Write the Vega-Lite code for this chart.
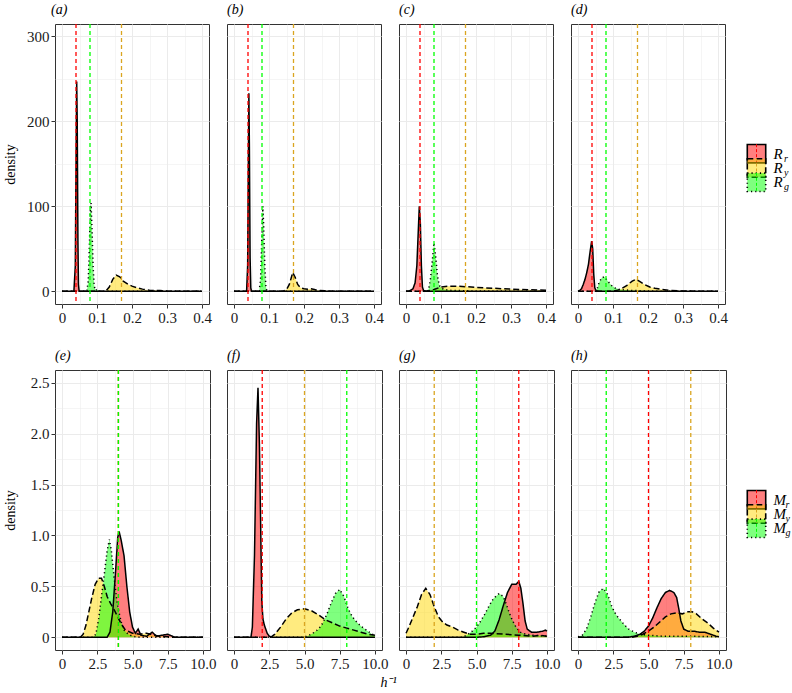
{
"$schema":"https://vega.github.io/schema/vega-lite/v6.json",
"padding":{"left":3,"top":2,"right":0,"bottom":0},
"config":{
 "font":"Liberation Serif",
 "view":{"stroke":"#333333","strokeWidth":1},
 "axis":{"domain":false,"grid":true,"gridColor":"#ebebeb","tickColor":"#333333","tickSize":4,"labelFont":"Liberation Serif","labelFontSize":15,"labelColor":"#1a1a1a","labelPadding":2,"labelOverlap":false,"titleFont":"Liberation Serif","titleFontSize":14,"titleFontWeight":"normal","titleColor":"#000000"},
 "title":{"font":"Liberation Serif","fontSize":14,"fontStyle":"italic","fontWeight":"normal","anchor":"start","frame":"group","offset":6,"color":"#000000"}
},
"datasets":{
"top":[
{"p":"a","s":"r","x":0,"d":0},{"p":"a","s":"r","x":0.034,"d":0},{"p":"a","s":"r","x":0.038,"d":30},{"p":"a","s":"r","x":0.0405,"d":170},{"p":"a","s":"r","x":0.042,"d":247},{"p":"a","s":"r","x":0.0435,"d":200},{"p":"a","s":"r","x":0.0455,"d":60},{"p":"a","s":"r","x":0.047,"d":8},{"p":"a","s":"r","x":0.049,"d":0},{"p":"a","s":"r","x":0.4,"d":0},
{"p":"a","s":"y","x":0,"d":0},{"p":"a","s":"y","x":0.125,"d":0},{"p":"a","s":"y","x":0.135,"d":5},{"p":"a","s":"y","x":0.145,"d":14},{"p":"a","s":"y","x":0.155,"d":19},{"p":"a","s":"y","x":0.165,"d":17},{"p":"a","s":"y","x":0.175,"d":12},{"p":"a","s":"y","x":0.19,"d":8},{"p":"a","s":"y","x":0.2,"d":6},{"p":"a","s":"y","x":0.215,"d":4},{"p":"a","s":"y","x":0.23,"d":2.5},{"p":"a","s":"y","x":0.25,"d":1.2},{"p":"a","s":"y","x":0.27,"d":0.8},{"p":"a","s":"y","x":0.28,"d":1},{"p":"a","s":"y","x":0.3,"d":0.3},{"p":"a","s":"y","x":0.32,"d":0},{"p":"a","s":"y","x":0.4,"d":0},
{"p":"a","s":"g","x":0,"d":0},{"p":"a","s":"g","x":0.071,"d":0},{"p":"a","s":"g","x":0.075,"d":12},{"p":"a","s":"g","x":0.078,"d":50},{"p":"a","s":"g","x":0.081,"d":95},{"p":"a","s":"g","x":0.083,"d":104},{"p":"a","s":"g","x":0.086,"d":70},{"p":"a","s":"g","x":0.089,"d":28},{"p":"a","s":"g","x":0.092,"d":7},{"p":"a","s":"g","x":0.095,"d":1},{"p":"a","s":"g","x":0.1,"d":2},{"p":"a","s":"g","x":0.105,"d":0},{"p":"a","s":"g","x":0.4,"d":0},
{"p":"b","s":"r","x":0,"d":0},{"p":"b","s":"r","x":0.036,"d":0},{"p":"b","s":"r","x":0.039,"d":30},{"p":"b","s":"r","x":0.041,"d":150},{"p":"b","s":"r","x":0.0425,"d":233},{"p":"b","s":"r","x":0.044,"d":170},{"p":"b","s":"r","x":0.046,"d":40},{"p":"b","s":"r","x":0.048,"d":4},{"p":"b","s":"r","x":0.05,"d":0},{"p":"b","s":"r","x":0.4,"d":0},
{"p":"b","s":"y","x":0,"d":0},{"p":"b","s":"y","x":0.14,"d":0},{"p":"b","s":"y","x":0.15,"d":2},{"p":"b","s":"y","x":0.158,"d":8},{"p":"b","s":"y","x":0.163,"d":15},{"p":"b","s":"y","x":0.168,"d":22},{"p":"b","s":"y","x":0.175,"d":16},{"p":"b","s":"y","x":0.182,"d":8},{"p":"b","s":"y","x":0.19,"d":4},{"p":"b","s":"y","x":0.2,"d":3},{"p":"b","s":"y","x":0.21,"d":2.5},{"p":"b","s":"y","x":0.22,"d":3},{"p":"b","s":"y","x":0.23,"d":2},{"p":"b","s":"y","x":0.24,"d":1},{"p":"b","s":"y","x":0.26,"d":0.5},{"p":"b","s":"y","x":0.28,"d":0},{"p":"b","s":"y","x":0.4,"d":0},
{"p":"b","s":"g","x":0,"d":0},{"p":"b","s":"g","x":0.072,"d":0},{"p":"b","s":"g","x":0.076,"d":15},{"p":"b","s":"g","x":0.079,"d":55},{"p":"b","s":"g","x":0.0825,"d":100},{"p":"b","s":"g","x":0.085,"d":75},{"p":"b","s":"g","x":0.088,"d":30},{"p":"b","s":"g","x":0.091,"d":6},{"p":"b","s":"g","x":0.094,"d":0},{"p":"b","s":"g","x":0.4,"d":0},
{"p":"c","s":"r","x":0,"d":0},{"p":"c","s":"r","x":0.01,"d":0.5},{"p":"c","s":"r","x":0.02,"d":3},{"p":"c","s":"r","x":0.026,"d":10},{"p":"c","s":"r","x":0.031,"d":30},{"p":"c","s":"r","x":0.035,"d":70},{"p":"c","s":"r","x":0.038,"d":100},{"p":"c","s":"r","x":0.041,"d":80},{"p":"c","s":"r","x":0.044,"d":30},{"p":"c","s":"r","x":0.047,"d":5},{"p":"c","s":"r","x":0.05,"d":1},{"p":"c","s":"r","x":0.06,"d":0},{"p":"c","s":"r","x":0.4,"d":0},
{"p":"c","s":"y","x":0,"d":0},{"p":"c","s":"y","x":0.06,"d":0},{"p":"c","s":"y","x":0.08,"d":2},{"p":"c","s":"y","x":0.1,"d":5},{"p":"c","s":"y","x":0.12,"d":6},{"p":"c","s":"y","x":0.15,"d":6},{"p":"c","s":"y","x":0.2,"d":4.5},{"p":"c","s":"y","x":0.25,"d":3.5},{"p":"c","s":"y","x":0.3,"d":2.5},{"p":"c","s":"y","x":0.35,"d":1.8},{"p":"c","s":"y","x":0.4,"d":1.2},
{"p":"c","s":"g","x":0,"d":0},{"p":"c","s":"g","x":0.06,"d":0},{"p":"c","s":"g","x":0.065,"d":3},{"p":"c","s":"g","x":0.07,"d":15},{"p":"c","s":"g","x":0.075,"d":35},{"p":"c","s":"g","x":0.08,"d":57},{"p":"c","s":"g","x":0.085,"d":40},{"p":"c","s":"g","x":0.09,"d":18},{"p":"c","s":"g","x":0.095,"d":7},{"p":"c","s":"g","x":0.1,"d":4},{"p":"c","s":"g","x":0.11,"d":2},{"p":"c","s":"g","x":0.13,"d":1},{"p":"c","s":"g","x":0.2,"d":0.3},{"p":"c","s":"g","x":0.4,"d":0},
{"p":"d","s":"r","x":0,"d":0},{"p":"d","s":"r","x":0.005,"d":1},{"p":"d","s":"r","x":0.01,"d":3},{"p":"d","s":"r","x":0.015,"d":8},{"p":"d","s":"r","x":0.02,"d":14},{"p":"d","s":"r","x":0.025,"d":22},{"p":"d","s":"r","x":0.03,"d":32},{"p":"d","s":"r","x":0.035,"d":48},{"p":"d","s":"r","x":0.039,"d":59},{"p":"d","s":"r","x":0.042,"d":50},{"p":"d","s":"r","x":0.045,"d":20},{"p":"d","s":"r","x":0.048,"d":4},{"p":"d","s":"r","x":0.052,"d":0.5},{"p":"d","s":"r","x":0.06,"d":0},{"p":"d","s":"r","x":0.4,"d":0},
{"p":"d","s":"y","x":0,"d":0},{"p":"d","s":"y","x":0.1,"d":0},{"p":"d","s":"y","x":0.12,"d":2},{"p":"d","s":"y","x":0.14,"d":7},{"p":"d","s":"y","x":0.155,"d":12},{"p":"d","s":"y","x":0.165,"d":14},{"p":"d","s":"y","x":0.175,"d":12},{"p":"d","s":"y","x":0.19,"d":8},{"p":"d","s":"y","x":0.205,"d":5},{"p":"d","s":"y","x":0.22,"d":3.5},{"p":"d","s":"y","x":0.24,"d":2},{"p":"d","s":"y","x":0.26,"d":1},{"p":"d","s":"y","x":0.3,"d":0.3},{"p":"d","s":"y","x":0.35,"d":0},{"p":"d","s":"y","x":0.4,"d":0},
{"p":"d","s":"g","x":0,"d":0},{"p":"d","s":"g","x":0.05,"d":0},{"p":"d","s":"g","x":0.055,"d":3},{"p":"d","s":"g","x":0.06,"d":10},{"p":"d","s":"g","x":0.068,"d":16},{"p":"d","s":"g","x":0.075,"d":17},{"p":"d","s":"g","x":0.085,"d":12},{"p":"d","s":"g","x":0.095,"d":7},{"p":"d","s":"g","x":0.105,"d":4},{"p":"d","s":"g","x":0.12,"d":2},{"p":"d","s":"g","x":0.15,"d":1},{"p":"d","s":"g","x":0.2,"d":0.3},{"p":"d","s":"g","x":0.25,"d":0},{"p":"d","s":"g","x":0.4,"d":0}
],
"bot":[
{"p":"e","s":"r","x":0,"d":0},{"p":"e","s":"r","x":3.2,"d":0},{"p":"e","s":"r","x":3.4,"d":0.05},{"p":"e","s":"r","x":3.6,"d":0.25},{"p":"e","s":"r","x":3.8,"d":0.65},{"p":"e","s":"r","x":3.95,"d":0.98},{"p":"e","s":"r","x":4.05,"d":1.04},{"p":"e","s":"r","x":4.2,"d":0.95},{"p":"e","s":"r","x":4.4,"d":0.8},{"p":"e","s":"r","x":4.6,"d":0.5},{"p":"e","s":"r","x":4.8,"d":0.25},{"p":"e","s":"r","x":5.0,"d":0.1},{"p":"e","s":"r","x":5.2,"d":0.04},{"p":"e","s":"r","x":5.4,"d":0.08},{"p":"e","s":"r","x":5.6,"d":0.02},{"p":"e","s":"r","x":6.0,"d":0.01},{"p":"e","s":"r","x":6.4,"d":0.05},{"p":"e","s":"r","x":6.7,"d":0.01},{"p":"e","s":"r","x":7.5,"d":0.03},{"p":"e","s":"r","x":8,"d":0},{"p":"e","s":"r","x":10,"d":0},
{"p":"e","s":"y","x":0,"d":0},{"p":"e","s":"y","x":1.3,"d":0},{"p":"e","s":"y","x":1.5,"d":0.03},{"p":"e","s":"y","x":1.7,"d":0.12},{"p":"e","s":"y","x":1.9,"d":0.25},{"p":"e","s":"y","x":2.1,"d":0.38},{"p":"e","s":"y","x":2.35,"d":0.52},{"p":"e","s":"y","x":2.6,"d":0.58},{"p":"e","s":"y","x":2.8,"d":0.58},{"p":"e","s":"y","x":3.0,"d":0.5},{"p":"e","s":"y","x":3.2,"d":0.4},{"p":"e","s":"y","x":3.45,"d":0.33},{"p":"e","s":"y","x":3.7,"d":0.27},{"p":"e","s":"y","x":3.95,"d":0.2},{"p":"e","s":"y","x":4.2,"d":0.13},{"p":"e","s":"y","x":4.5,"d":0.07},{"p":"e","s":"y","x":5.0,"d":0.04},{"p":"e","s":"y","x":5.5,"d":0.03},{"p":"e","s":"y","x":6.0,"d":0.04},{"p":"e","s":"y","x":6.5,"d":0.02},{"p":"e","s":"y","x":7.0,"d":0.01},{"p":"e","s":"y","x":8,"d":0},{"p":"e","s":"y","x":10,"d":0},
{"p":"e","s":"g","x":0,"d":0},{"p":"e","s":"g","x":2.2,"d":0},{"p":"e","s":"g","x":2.4,"d":0.03},{"p":"e","s":"g","x":2.6,"d":0.18},{"p":"e","s":"g","x":2.8,"d":0.4},{"p":"e","s":"g","x":3.0,"d":0.62},{"p":"e","s":"g","x":3.2,"d":0.85},{"p":"e","s":"g","x":3.36,"d":0.96},{"p":"e","s":"g","x":3.5,"d":0.85},{"p":"e","s":"g","x":3.7,"d":0.58},{"p":"e","s":"g","x":3.85,"d":0.4},{"p":"e","s":"g","x":4.0,"d":0.27},{"p":"e","s":"g","x":4.2,"d":0.15},{"p":"e","s":"g","x":4.4,"d":0.07},{"p":"e","s":"g","x":4.7,"d":0.03},{"p":"e","s":"g","x":5.0,"d":0.01},{"p":"e","s":"g","x":5.5,"d":0},{"p":"e","s":"g","x":10,"d":0},
{"p":"f","s":"r","x":0,"d":0},{"p":"f","s":"r","x":1.2,"d":0},{"p":"f","s":"r","x":1.3,"d":0.1},{"p":"f","s":"r","x":1.45,"d":0.8},{"p":"f","s":"r","x":1.6,"d":2.1},{"p":"f","s":"r","x":1.7,"d":2.45},{"p":"f","s":"r","x":1.8,"d":1.9},{"p":"f","s":"r","x":1.9,"d":1.0},{"p":"f","s":"r","x":1.97,"d":0.35},{"p":"f","s":"r","x":2.05,"d":0.18},{"p":"f","s":"r","x":2.15,"d":0.12},{"p":"f","s":"r","x":2.25,"d":0.08},{"p":"f","s":"r","x":2.35,"d":0.04},{"p":"f","s":"r","x":2.5,"d":0.01},{"p":"f","s":"r","x":2.7,"d":0},{"p":"f","s":"r","x":10,"d":0},
{"p":"f","s":"y","x":0,"d":0},{"p":"f","s":"y","x":2.6,"d":0},{"p":"f","s":"y","x":2.9,"d":0.03},{"p":"f","s":"y","x":3.3,"d":0.1},{"p":"f","s":"y","x":3.7,"d":0.18},{"p":"f","s":"y","x":4.1,"d":0.24},{"p":"f","s":"y","x":4.5,"d":0.27},{"p":"f","s":"y","x":5.0,"d":0.28},{"p":"f","s":"y","x":5.5,"d":0.26},{"p":"f","s":"y","x":6.0,"d":0.22},{"p":"f","s":"y","x":6.5,"d":0.17},{"p":"f","s":"y","x":7.0,"d":0.14},{"p":"f","s":"y","x":7.5,"d":0.11},{"p":"f","s":"y","x":8.0,"d":0.09},{"p":"f","s":"y","x":8.5,"d":0.07},{"p":"f","s":"y","x":9.0,"d":0.05},{"p":"f","s":"y","x":9.5,"d":0.03},{"p":"f","s":"y","x":10,"d":0.02},
{"p":"f","s":"g","x":0,"d":0},{"p":"f","s":"g","x":4.8,"d":0},{"p":"f","s":"g","x":5.2,"d":0.01},{"p":"f","s":"g","x":5.6,"d":0.04},{"p":"f","s":"g","x":6.0,"d":0.08},{"p":"f","s":"g","x":6.3,"d":0.14},{"p":"f","s":"g","x":6.6,"d":0.23},{"p":"f","s":"g","x":6.9,"d":0.34},{"p":"f","s":"g","x":7.2,"d":0.43},{"p":"f","s":"g","x":7.5,"d":0.47},{"p":"f","s":"g","x":7.8,"d":0.4},{"p":"f","s":"g","x":8.1,"d":0.28},{"p":"f","s":"g","x":8.4,"d":0.2},{"p":"f","s":"g","x":8.7,"d":0.15},{"p":"f","s":"g","x":9.0,"d":0.11},{"p":"f","s":"g","x":9.4,"d":0.07},{"p":"f","s":"g","x":9.8,"d":0.03},{"p":"f","s":"g","x":10,"d":0.02},
{"p":"g","s":"r","x":0,"d":0},{"p":"g","s":"r","x":5.0,"d":0},{"p":"g","s":"r","x":5.5,"d":0.005},{"p":"g","s":"r","x":6.0,"d":0.02},{"p":"g","s":"r","x":6.3,"d":0.06},{"p":"g","s":"r","x":6.6,"d":0.17},{"p":"g","s":"r","x":6.9,"d":0.31},{"p":"g","s":"r","x":7.2,"d":0.44},{"p":"g","s":"r","x":7.5,"d":0.52},{"p":"g","s":"r","x":7.8,"d":0.52},{"p":"g","s":"r","x":8.0,"d":0.55},{"p":"g","s":"r","x":8.15,"d":0.48},{"p":"g","s":"r","x":8.3,"d":0.33},{"p":"g","s":"r","x":8.45,"d":0.16},{"p":"g","s":"r","x":8.6,"d":0.08},{"p":"g","s":"r","x":8.9,"d":0.05},{"p":"g","s":"r","x":9.3,"d":0.05},{"p":"g","s":"r","x":9.7,"d":0.06},{"p":"g","s":"r","x":9.9,"d":0.07},{"p":"g","s":"r","x":10,"d":0.06},
{"p":"g","s":"y","x":0,"d":0.04},{"p":"g","s":"y","x":0.2,"d":0.1},{"p":"g","s":"y","x":0.5,"d":0.2},{"p":"g","s":"y","x":0.8,"d":0.3},{"p":"g","s":"y","x":1.1,"d":0.42},{"p":"g","s":"y","x":1.4,"d":0.48},{"p":"g","s":"y","x":1.7,"d":0.42},{"p":"g","s":"y","x":2.0,"d":0.3},{"p":"g","s":"y","x":2.3,"d":0.2},{"p":"g","s":"y","x":2.6,"d":0.15},{"p":"g","s":"y","x":2.9,"d":0.12},{"p":"g","s":"y","x":3.3,"d":0.1},{"p":"g","s":"y","x":3.7,"d":0.07},{"p":"g","s":"y","x":4.1,"d":0.05},{"p":"g","s":"y","x":4.5,"d":0.03},{"p":"g","s":"y","x":5,"d":0.03},{"p":"g","s":"y","x":5.5,"d":0.04},{"p":"g","s":"y","x":6,"d":0.04},{"p":"g","s":"y","x":7,"d":0.03},{"p":"g","s":"y","x":8,"d":0.02},{"p":"g","s":"y","x":9,"d":0.01},{"p":"g","s":"y","x":9.5,"d":0.02},{"p":"g","s":"y","x":10,"d":0.01},
{"p":"g","s":"g","x":0,"d":0},{"p":"g","s":"g","x":4.0,"d":0},{"p":"g","s":"g","x":4.3,"d":0.02},{"p":"g","s":"g","x":4.7,"d":0.06},{"p":"g","s":"g","x":5.0,"d":0.1},{"p":"g","s":"g","x":5.3,"d":0.16},{"p":"g","s":"g","x":5.6,"d":0.23},{"p":"g","s":"g","x":5.9,"d":0.31},{"p":"g","s":"g","x":6.2,"d":0.38},{"p":"g","s":"g","x":6.6,"d":0.43},{"p":"g","s":"g","x":6.9,"d":0.4},{"p":"g","s":"g","x":7.1,"d":0.33},{"p":"g","s":"g","x":7.3,"d":0.25},{"p":"g","s":"g","x":7.5,"d":0.18},{"p":"g","s":"g","x":7.8,"d":0.1},{"p":"g","s":"g","x":8.1,"d":0.05},{"p":"g","s":"g","x":8.5,"d":0.03},{"p":"g","s":"g","x":9,"d":0.02},{"p":"g","s":"g","x":10,"d":0.01},
{"p":"h","s":"r","x":0,"d":0},{"p":"h","s":"r","x":3.5,"d":0},{"p":"h","s":"r","x":4.0,"d":0.01},{"p":"h","s":"r","x":4.4,"d":0.03},{"p":"h","s":"r","x":4.7,"d":0.06},{"p":"h","s":"r","x":5.0,"d":0.11},{"p":"h","s":"r","x":5.3,"d":0.19},{"p":"h","s":"r","x":5.6,"d":0.29},{"p":"h","s":"r","x":5.9,"d":0.38},{"p":"h","s":"r","x":6.2,"d":0.44},{"p":"h","s":"r","x":6.5,"d":0.46},{"p":"h","s":"r","x":6.8,"d":0.44},{"p":"h","s":"r","x":7.0,"d":0.39},{"p":"h","s":"r","x":7.15,"d":0.28},{"p":"h","s":"r","x":7.3,"d":0.16},{"p":"h","s":"r","x":7.5,"d":0.08},{"p":"h","s":"r","x":7.8,"d":0.06},{"p":"h","s":"r","x":8.2,"d":0.06},{"p":"h","s":"r","x":8.6,"d":0.05},{"p":"h","s":"r","x":9.0,"d":0.05},{"p":"h","s":"r","x":9.4,"d":0.03},{"p":"h","s":"r","x":9.8,"d":0.01},{"p":"h","s":"r","x":10,"d":0.005},
{"p":"h","s":"y","x":0,"d":0},{"p":"h","s":"y","x":3.8,"d":0},{"p":"h","s":"y","x":4.2,"d":0.01},{"p":"h","s":"y","x":4.6,"d":0.03},{"p":"h","s":"y","x":5.0,"d":0.06},{"p":"h","s":"y","x":5.4,"d":0.1},{"p":"h","s":"y","x":5.8,"d":0.15},{"p":"h","s":"y","x":6.2,"d":0.2},{"p":"h","s":"y","x":6.6,"d":0.23},{"p":"h","s":"y","x":7.0,"d":0.24},{"p":"h","s":"y","x":7.4,"d":0.23},{"p":"h","s":"y","x":7.8,"d":0.25},{"p":"h","s":"y","x":8.1,"d":0.25},{"p":"h","s":"y","x":8.4,"d":0.23},{"p":"h","s":"y","x":8.8,"d":0.18},{"p":"h","s":"y","x":9.2,"d":0.14},{"p":"h","s":"y","x":9.6,"d":0.09},{"p":"h","s":"y","x":10,"d":0.05},
{"p":"h","s":"g","x":0,"d":0.005},{"p":"h","s":"g","x":0.3,"d":0.02},{"p":"h","s":"g","x":0.6,"d":0.08},{"p":"h","s":"g","x":0.9,"d":0.2},{"p":"h","s":"g","x":1.2,"d":0.34},{"p":"h","s":"g","x":1.5,"d":0.45},{"p":"h","s":"g","x":1.8,"d":0.48},{"p":"h","s":"g","x":2.1,"d":0.42},{"p":"h","s":"g","x":2.4,"d":0.3},{"p":"h","s":"g","x":2.7,"d":0.22},{"p":"h","s":"g","x":3.0,"d":0.17},{"p":"h","s":"g","x":3.3,"d":0.12},{"p":"h","s":"g","x":3.6,"d":0.08},{"p":"h","s":"g","x":4.0,"d":0.05},{"p":"h","s":"g","x":4.4,"d":0.03},{"p":"h","s":"g","x":5,"d":0.02},{"p":"h","s":"g","x":6,"d":0.01},{"p":"h","s":"g","x":8,"d":0.01},{"p":"h","s":"g","x":10,"d":0.005}
],
"vtop":[
{"p":"a","s":"r","x":0.04},{"p":"a","s":"y","x":0.17},{"p":"a","s":"g","x":0.08},
{"p":"b","s":"r","x":0.04},{"p":"b","s":"y","x":0.17},{"p":"b","s":"g","x":0.08},
{"p":"c","s":"r","x":0.04},{"p":"c","s":"y","x":0.17},{"p":"c","s":"g","x":0.08},
{"p":"d","s":"r","x":0.04},{"p":"d","s":"y","x":0.17},{"p":"d","s":"g","x":0.08}
],
"vbot":[
{"p":"e","s":"r","x":4},{"p":"e","s":"y","x":4},{"p":"e","s":"g","x":4},
{"p":"f","s":"r","x":2},{"p":"f","s":"y","x":5},{"p":"f","s":"g","x":8},
{"p":"g","s":"r","x":8},{"p":"g","s":"y","x":2},{"p":"g","s":"g","x":5},
{"p":"h","s":"r","x":5},{"p":"h","s":"y","x":8},{"p":"h","s":"g","x":2}
],
"legR":[{"s":"r","m":"R"},{"s":"y","m":"R"},{"s":"g","m":"R"}],
"legM":[{"s":"r","m":"M"},{"s":"y","m":"M"},{"s":"g","m":"M"}]
},
"spacing":22,
"vconcat":[
{"spacing":18,"bounds":"flush","hconcat":[
 {"width":154,"height":280,"title":{"text":"(a)","dx":-4},
  "layer":[
   {"data":{"name":"top"},"transform":[{"filter":"datum.p=='a'"}],
    "encoding":{
     "x":{"field":"x","type":"quantitative","scale":{"domain":[-0.02,0.42],"nice":false,"zero":false},"axis":{"title":null,"values":[0,0.05,0.1,0.15,0.2,0.25,0.3,0.35,0.4],"labelExpr":"round(datum.value*100)%10!=0?'':(datum.value==0?'0':format(datum.value,'.1f'))","tickOpacity":{"condition":{"test":"round(datum.value*100)%10!=0","value":0},"value":1},"gridWidth":{"condition":{"test":"round(datum.value*100)%10!=0","value":0.5},"value":1}}},
     "y":{"field":"d","type":"quantitative","stack":null,"scale":{"domain":[-15,314.6],"nice":false,"zero":false},"axis":{"title":"density","titlePadding":9,"values":[0,50,100,150,200,250,300],"labelExpr":"datum.value%100!=0?'':datum.label","tickOpacity":{"condition":{"test":"datum.value%100!=0","value":0},"value":1},"gridWidth":{"condition":{"test":"datum.value%100!=0","value":0.5},"value":1}}}
    },
    "layer":[
     {"mark":{"type":"area","fillOpacity":0.5,"clip":true},"encoding":{"fill":{"field":"s","type":"nominal","scale":{"domain":["r","y","g"],"range":["#ff0000","#ffd700","#00ff00"]},"legend":null}}},
     {"mark":{"type":"line","stroke":"black","strokeWidth":1.5,"clip":true},"encoding":{"strokeDash":{"field":"s","type":"nominal","scale":{"domain":["r","y","g"],"range":[[1,0],[6,3],[1.2,3]]},"legend":null}}}
    ]},
   {"data":{"name":"vtop"},"transform":[{"filter":"datum.p=='a'"}],"mark":{"type":"rule","strokeWidth":1.3,"strokeDash":[4,3]},
    "encoding":{"x":{"field":"x","type":"quantitative","scale":{"domain":[-0.02,0.42],"nice":false,"zero":false},"axis":{"title":null,"values":[0,0.05,0.1,0.15,0.2,0.25,0.3,0.35,0.4],"labelExpr":"round(datum.value*100)%10!=0?'':(datum.value==0?'0':format(datum.value,'.1f'))","tickOpacity":{"condition":{"test":"round(datum.value*100)%10!=0","value":0},"value":1},"gridWidth":{"condition":{"test":"round(datum.value*100)%10!=0","value":0.5},"value":1}}},
     "stroke":{"field":"s","type":"nominal","scale":{"domain":["r","y","g"],"range":["#ff0000","#daa520","#00ff00"]},"legend":null}}}
  ]},
 {"width":154,"height":280,"title":{"text":"(b)"},
  "layer":[
   {"data":{"name":"top"},"transform":[{"filter":"datum.p=='b'"}],
    "encoding":{
     "x":{"field":"x","type":"quantitative","scale":{"domain":[-0.02,0.42],"nice":false,"zero":false},"axis":{"title":null,"values":[0,0.05,0.1,0.15,0.2,0.25,0.3,0.35,0.4],"labelExpr":"round(datum.value*100)%10!=0?'':(datum.value==0?'0':format(datum.value,'.1f'))","tickOpacity":{"condition":{"test":"round(datum.value*100)%10!=0","value":0},"value":1},"gridWidth":{"condition":{"test":"round(datum.value*100)%10!=0","value":0.5},"value":1}}},
     "y":{"field":"d","type":"quantitative","stack":null,"scale":{"domain":[-15,314.6],"nice":false,"zero":false},"axis":{"title":null,"labels":false,"ticks":false,"values":[0,50,100,150,200,250,300],"gridWidth":{"condition":{"test":"datum.value%100!=0","value":0.5},"value":1}}}
    },
    "layer":[
     {"mark":{"type":"area","fillOpacity":0.5,"clip":true},"encoding":{"fill":{"field":"s","type":"nominal","scale":{"domain":["r","y","g"],"range":["#ff0000","#ffd700","#00ff00"]},"legend":null}}},
     {"mark":{"type":"line","stroke":"black","strokeWidth":1.5,"clip":true},"encoding":{"strokeDash":{"field":"s","type":"nominal","scale":{"domain":["r","y","g"],"range":[[1,0],[6,3],[1.2,3]]},"legend":null}}}
    ]},
   {"data":{"name":"vtop"},"transform":[{"filter":"datum.p=='b'"}],"mark":{"type":"rule","strokeWidth":1.3,"strokeDash":[4,3]},
    "encoding":{"x":{"field":"x","type":"quantitative","scale":{"domain":[-0.02,0.42],"nice":false,"zero":false},"axis":{"title":null,"values":[0,0.05,0.1,0.15,0.2,0.25,0.3,0.35,0.4],"labelExpr":"round(datum.value*100)%10!=0?'':(datum.value==0?'0':format(datum.value,'.1f'))","tickOpacity":{"condition":{"test":"round(datum.value*100)%10!=0","value":0},"value":1},"gridWidth":{"condition":{"test":"round(datum.value*100)%10!=0","value":0.5},"value":1}}},
     "stroke":{"field":"s","type":"nominal","scale":{"domain":["r","y","g"],"range":["#ff0000","#daa520","#00ff00"]},"legend":null}}}
  ]},
 {"width":154,"height":280,"title":{"text":"(c)"},
  "layer":[
   {"data":{"name":"top"},"transform":[{"filter":"datum.p=='c'"}],
    "encoding":{
     "x":{"field":"x","type":"quantitative","scale":{"domain":[-0.02,0.42],"nice":false,"zero":false},"axis":{"title":null,"values":[0,0.05,0.1,0.15,0.2,0.25,0.3,0.35,0.4],"labelExpr":"round(datum.value*100)%10!=0?'':(datum.value==0?'0':format(datum.value,'.1f'))","tickOpacity":{"condition":{"test":"round(datum.value*100)%10!=0","value":0},"value":1},"gridWidth":{"condition":{"test":"round(datum.value*100)%10!=0","value":0.5},"value":1}}},
     "y":{"field":"d","type":"quantitative","stack":null,"scale":{"domain":[-15,314.6],"nice":false,"zero":false},"axis":{"title":null,"labels":false,"ticks":false,"values":[0,50,100,150,200,250,300],"gridWidth":{"condition":{"test":"datum.value%100!=0","value":0.5},"value":1}}}
    },
    "layer":[
     {"mark":{"type":"area","fillOpacity":0.5,"clip":true},"encoding":{"fill":{"field":"s","type":"nominal","scale":{"domain":["r","y","g"],"range":["#ff0000","#ffd700","#00ff00"]},"legend":null}}},
     {"mark":{"type":"line","stroke":"black","strokeWidth":1.5,"clip":true},"encoding":{"strokeDash":{"field":"s","type":"nominal","scale":{"domain":["r","y","g"],"range":[[1,0],[6,3],[1.2,3]]},"legend":null}}}
    ]},
   {"data":{"name":"vtop"},"transform":[{"filter":"datum.p=='c'"}],"mark":{"type":"rule","strokeWidth":1.3,"strokeDash":[4,3]},
    "encoding":{"x":{"field":"x","type":"quantitative","scale":{"domain":[-0.02,0.42],"nice":false,"zero":false},"axis":{"title":null,"values":[0,0.05,0.1,0.15,0.2,0.25,0.3,0.35,0.4],"labelExpr":"round(datum.value*100)%10!=0?'':(datum.value==0?'0':format(datum.value,'.1f'))","tickOpacity":{"condition":{"test":"round(datum.value*100)%10!=0","value":0},"value":1},"gridWidth":{"condition":{"test":"round(datum.value*100)%10!=0","value":0.5},"value":1}}},
     "stroke":{"field":"s","type":"nominal","scale":{"domain":["r","y","g"],"range":["#ff0000","#daa520","#00ff00"]},"legend":null}}}
  ]},
 {"width":154,"height":280,"title":{"text":"(d)"},
  "layer":[
   {"data":{"name":"top"},"transform":[{"filter":"datum.p=='d'"}],
    "encoding":{
     "x":{"field":"x","type":"quantitative","scale":{"domain":[-0.02,0.42],"nice":false,"zero":false},"axis":{"title":null,"values":[0,0.05,0.1,0.15,0.2,0.25,0.3,0.35,0.4],"labelExpr":"round(datum.value*100)%10!=0?'':(datum.value==0?'0':format(datum.value,'.1f'))","tickOpacity":{"condition":{"test":"round(datum.value*100)%10!=0","value":0},"value":1},"gridWidth":{"condition":{"test":"round(datum.value*100)%10!=0","value":0.5},"value":1}}},
     "y":{"field":"d","type":"quantitative","stack":null,"scale":{"domain":[-15,314.6],"nice":false,"zero":false},"axis":{"title":null,"labels":false,"ticks":false,"values":[0,50,100,150,200,250,300],"gridWidth":{"condition":{"test":"datum.value%100!=0","value":0.5},"value":1}}}
    },
    "layer":[
     {"mark":{"type":"area","fillOpacity":0.5,"clip":true},"encoding":{"fill":{"field":"s","type":"nominal","scale":{"domain":["r","y","g"],"range":["#ff0000","#ffd700","#00ff00"]},"legend":null}}},
     {"mark":{"type":"line","stroke":"black","strokeWidth":1.5,"clip":true},"encoding":{"strokeDash":{"field":"s","type":"nominal","scale":{"domain":["r","y","g"],"range":[[1,0],[6,3],[1.2,3]]},"legend":null}}}
    ]},
   {"data":{"name":"vtop"},"transform":[{"filter":"datum.p=='d'"}],"mark":{"type":"rule","strokeWidth":1.3,"strokeDash":[4,3]},
    "encoding":{"x":{"field":"x","type":"quantitative","scale":{"domain":[-0.02,0.42],"nice":false,"zero":false},"axis":{"title":null,"values":[0,0.05,0.1,0.15,0.2,0.25,0.3,0.35,0.4],"labelExpr":"round(datum.value*100)%10!=0?'':(datum.value==0?'0':format(datum.value,'.1f'))","tickOpacity":{"condition":{"test":"round(datum.value*100)%10!=0","value":0},"value":1},"gridWidth":{"condition":{"test":"round(datum.value*100)%10!=0","value":0.5},"value":1}}},
     "stroke":{"field":"s","type":"nominal","scale":{"domain":["r","y","g"],"range":["#ff0000","#daa520","#00ff00"]},"legend":null}}}
  ]},
 {"width":27,"height":280,"view":{"stroke":null},"data":{"name":"legR"},
  "encoding":{"y":{"field":"s","type":"nominal","scale":{"type":"point","domain":["r","y","g"],"range":[122.5,165.5]},"axis":null}},
  "layer":[
   {"mark":{"type":"point","shape":"square","filled":true,"size":340,"opacity":1,"fillOpacity":0.5,"stroke":"black","strokeWidth":1.6,"strokeOpacity":1},
    "encoding":{"fill":{"field":"s","type":"nominal","scale":{"domain":["r","y","g"],"range":["#ff0000","#ffd700","#00ff00"]},"legend":null},
     "strokeDash":{"field":"s","type":"nominal","scale":{"domain":["r","y","g"],"range":[[1,0],[6,3],[1.2,3]]},"legend":null}}},
   {"mark":{"type":"point","shape":"M0,-1L0,1","filled":false,"size":361,"opacity":1,"strokeWidth":1,"strokeDash":[3,2]},
    "encoding":{"stroke":{"field":"s","type":"nominal","scale":{"domain":["r","y","g"],"range":["#ff0000","#daa520","#00ff00"]},"legend":null}}},
   {"mark":{"type":"text","align":"left","baseline":"middle","dx":17,"fontSize":15,"fontStyle":"italic","font":"Liberation Serif"},"encoding":{"text":{"field":"m"}}},
   {"mark":{"type":"text","align":"left","baseline":"middle","dx":27.5,"dy":5,"fontSize":10,"fontStyle":"italic","font":"Liberation Serif"},"encoding":{"text":{"field":"s"}}}
  ]}
]},
{"spacing":17,"bounds":"flush","hconcat":[
 {"width":155,"height":280,"title":{"text":"(e)"},
  "layer":[
   {"data":{"name":"bot"},"transform":[{"filter":"datum.p=='e'"}],
    "encoding":{
     "x":{"field":"x","type":"quantitative","scale":{"domain":[-0.5,10.5],"nice":false,"zero":false},"axis":{"title":null,"values":[0,1.25,2.5,3.75,5,6.25,7.5,8.75,10],"labelExpr":"round(datum.value*100)%250!=0?'':(datum.value==0?'0':format(datum.value,'.1f'))","tickOpacity":{"condition":{"test":"round(datum.value*100)%250!=0","value":0},"value":1},"gridWidth":{"condition":{"test":"round(datum.value*100)%250!=0","value":0.5},"value":1}}},
     "y":{"field":"d","type":"quantitative","stack":null,"scale":{"domain":[-0.125,2.625],"nice":false,"zero":false},"axis":{"title":"density","titlePadding":12.75,"values":[0,0.25,0.5,0.75,1,1.25,1.5,1.75,2,2.25,2.5],"labelExpr":"round(datum.value*100)%50!=0?'':(datum.value==0?'0':format(datum.value,'.1f'))","tickOpacity":{"condition":{"test":"round(datum.value*100)%50!=0","value":0},"value":1},"gridWidth":{"condition":{"test":"round(datum.value*100)%50!=0","value":0.5},"value":1}}}
    },
    "layer":[
     {"mark":{"type":"area","fillOpacity":0.5,"clip":true},"encoding":{"fill":{"field":"s","type":"nominal","scale":{"domain":["r","y","g"],"range":["#ff0000","#ffd700","#00ff00"]},"legend":null}}},
     {"mark":{"type":"line","stroke":"black","strokeWidth":1.5,"clip":true},"encoding":{"strokeDash":{"field":"s","type":"nominal","scale":{"domain":["r","y","g"],"range":[[1,0],[6,3],[1.2,3]]},"legend":null}}}
    ]},
   {"data":{"name":"vbot"},"transform":[{"filter":"datum.p=='e'"}],"mark":{"type":"rule","strokeWidth":1.3,"strokeDash":[4,3]},
    "encoding":{"x":{"field":"x","type":"quantitative","scale":{"domain":[-0.5,10.5],"nice":false,"zero":false},"axis":{"title":null,"values":[0,1.25,2.5,3.75,5,6.25,7.5,8.75,10],"labelExpr":"round(datum.value*100)%250!=0?'':(datum.value==0?'0':format(datum.value,'.1f'))","tickOpacity":{"condition":{"test":"round(datum.value*100)%250!=0","value":0},"value":1},"gridWidth":{"condition":{"test":"round(datum.value*100)%250!=0","value":0.5},"value":1}}},
     "stroke":{"field":"s","type":"nominal","scale":{"domain":["r","y","g"],"range":["#ff0000","#daa520","#00ff00"]},"legend":null}}}
  ]},
 {"width":155,"height":280,"title":{"text":"(f)"},
  "layer":[
   {"data":{"name":"bot"},"transform":[{"filter":"datum.p=='f'"}],
    "encoding":{
     "x":{"field":"x","type":"quantitative","scale":{"domain":[-0.5,10.5],"nice":false,"zero":false},"axis":{"title":"h⁻¹","titleX":161,"titleFontStyle":"italic","values":[0,1.25,2.5,3.75,5,6.25,7.5,8.75,10],"labelExpr":"round(datum.value*100)%250!=0?'':(datum.value==0?'0':format(datum.value,'.1f'))","tickOpacity":{"condition":{"test":"round(datum.value*100)%250!=0","value":0},"value":1},"gridWidth":{"condition":{"test":"round(datum.value*100)%250!=0","value":0.5},"value":1}}},
     "y":{"field":"d","type":"quantitative","stack":null,"scale":{"domain":[-0.125,2.625],"nice":false,"zero":false},"axis":{"title":null,"labels":false,"ticks":false,"values":[0,0.25,0.5,0.75,1,1.25,1.5,1.75,2,2.25,2.5],"gridWidth":{"condition":{"test":"round(datum.value*100)%50!=0","value":0.5},"value":1}}}
    },
    "layer":[
     {"mark":{"type":"area","fillOpacity":0.5,"clip":true},"encoding":{"fill":{"field":"s","type":"nominal","scale":{"domain":["r","y","g"],"range":["#ff0000","#ffd700","#00ff00"]},"legend":null}}},
     {"mark":{"type":"line","stroke":"black","strokeWidth":1.5,"clip":true},"encoding":{"strokeDash":{"field":"s","type":"nominal","scale":{"domain":["r","y","g"],"range":[[1,0],[6,3],[1.2,3]]},"legend":null}}}
    ]},
   {"data":{"name":"vbot"},"transform":[{"filter":"datum.p=='f'"}],"mark":{"type":"rule","strokeWidth":1.3,"strokeDash":[4,3]},
    "encoding":{"x":{"field":"x","type":"quantitative","scale":{"domain":[-0.5,10.5],"nice":false,"zero":false},"axis":{"title":"h⁻¹","titleX":161,"titleFontStyle":"italic","values":[0,1.25,2.5,3.75,5,6.25,7.5,8.75,10],"labelExpr":"round(datum.value*100)%250!=0?'':(datum.value==0?'0':format(datum.value,'.1f'))","tickOpacity":{"condition":{"test":"round(datum.value*100)%250!=0","value":0},"value":1},"gridWidth":{"condition":{"test":"round(datum.value*100)%250!=0","value":0.5},"value":1}}},
     "stroke":{"field":"s","type":"nominal","scale":{"domain":["r","y","g"],"range":["#ff0000","#daa520","#00ff00"]},"legend":null}}}
  ]},
 {"width":155,"height":280,"title":{"text":"(g)"},
  "layer":[
   {"data":{"name":"bot"},"transform":[{"filter":"datum.p=='g'"}],
    "encoding":{
     "x":{"field":"x","type":"quantitative","scale":{"domain":[-0.5,10.5],"nice":false,"zero":false},"axis":{"title":null,"values":[0,1.25,2.5,3.75,5,6.25,7.5,8.75,10],"labelExpr":"round(datum.value*100)%250!=0?'':(datum.value==0?'0':format(datum.value,'.1f'))","tickOpacity":{"condition":{"test":"round(datum.value*100)%250!=0","value":0},"value":1},"gridWidth":{"condition":{"test":"round(datum.value*100)%250!=0","value":0.5},"value":1}}},
     "y":{"field":"d","type":"quantitative","stack":null,"scale":{"domain":[-0.125,2.625],"nice":false,"zero":false},"axis":{"title":null,"labels":false,"ticks":false,"values":[0,0.25,0.5,0.75,1,1.25,1.5,1.75,2,2.25,2.5],"gridWidth":{"condition":{"test":"round(datum.value*100)%50!=0","value":0.5},"value":1}}}
    },
    "layer":[
     {"mark":{"type":"area","fillOpacity":0.5,"clip":true},"encoding":{"fill":{"field":"s","type":"nominal","scale":{"domain":["r","y","g"],"range":["#ff0000","#ffd700","#00ff00"]},"legend":null}}},
     {"mark":{"type":"line","stroke":"black","strokeWidth":1.5,"clip":true},"encoding":{"strokeDash":{"field":"s","type":"nominal","scale":{"domain":["r","y","g"],"range":[[1,0],[6,3],[1.2,3]]},"legend":null}}}
    ]},
   {"data":{"name":"vbot"},"transform":[{"filter":"datum.p=='g'"}],"mark":{"type":"rule","strokeWidth":1.3,"strokeDash":[4,3]},
    "encoding":{"x":{"field":"x","type":"quantitative","scale":{"domain":[-0.5,10.5],"nice":false,"zero":false},"axis":{"title":null,"values":[0,1.25,2.5,3.75,5,6.25,7.5,8.75,10],"labelExpr":"round(datum.value*100)%250!=0?'':(datum.value==0?'0':format(datum.value,'.1f'))","tickOpacity":{"condition":{"test":"round(datum.value*100)%250!=0","value":0},"value":1},"gridWidth":{"condition":{"test":"round(datum.value*100)%250!=0","value":0.5},"value":1}}},
     "stroke":{"field":"s","type":"nominal","scale":{"domain":["r","y","g"],"range":["#ff0000","#daa520","#00ff00"]},"legend":null}}}
  ]},
 {"width":155,"height":280,"title":{"text":"(h)"},
  "layer":[
   {"data":{"name":"bot"},"transform":[{"filter":"datum.p=='h'"}],
    "encoding":{
     "x":{"field":"x","type":"quantitative","scale":{"domain":[-0.5,10.5],"nice":false,"zero":false},"axis":{"title":null,"values":[0,1.25,2.5,3.75,5,6.25,7.5,8.75,10],"labelExpr":"round(datum.value*100)%250!=0?'':(datum.value==0?'0':format(datum.value,'.1f'))","tickOpacity":{"condition":{"test":"round(datum.value*100)%250!=0","value":0},"value":1},"gridWidth":{"condition":{"test":"round(datum.value*100)%250!=0","value":0.5},"value":1}}},
     "y":{"field":"d","type":"quantitative","stack":null,"scale":{"domain":[-0.125,2.625],"nice":false,"zero":false},"axis":{"title":null,"labels":false,"ticks":false,"values":[0,0.25,0.5,0.75,1,1.25,1.5,1.75,2,2.25,2.5],"gridWidth":{"condition":{"test":"round(datum.value*100)%50!=0","value":0.5},"value":1}}}
    },
    "layer":[
     {"mark":{"type":"area","fillOpacity":0.5,"clip":true},"encoding":{"fill":{"field":"s","type":"nominal","scale":{"domain":["r","y","g"],"range":["#ff0000","#ffd700","#00ff00"]},"legend":null}}},
     {"mark":{"type":"line","stroke":"black","strokeWidth":1.5,"clip":true},"encoding":{"strokeDash":{"field":"s","type":"nominal","scale":{"domain":["r","y","g"],"range":[[1,0],[6,3],[1.2,3]]},"legend":null}}}
    ]},
   {"data":{"name":"vbot"},"transform":[{"filter":"datum.p=='h'"}],"mark":{"type":"rule","strokeWidth":1.3,"strokeDash":[4,3]},
    "encoding":{"x":{"field":"x","type":"quantitative","scale":{"domain":[-0.5,10.5],"nice":false,"zero":false},"axis":{"title":null,"values":[0,1.25,2.5,3.75,5,6.25,7.5,8.75,10],"labelExpr":"round(datum.value*100)%250!=0?'':(datum.value==0?'0':format(datum.value,'.1f'))","tickOpacity":{"condition":{"test":"round(datum.value*100)%250!=0","value":0},"value":1},"gridWidth":{"condition":{"test":"round(datum.value*100)%250!=0","value":0.5},"value":1}}},
     "stroke":{"field":"s","type":"nominal","scale":{"domain":["r","y","g"],"range":["#ff0000","#daa520","#00ff00"]},"legend":null}}}
  ]},
 {"width":27,"height":280,"view":{"stroke":null},"data":{"name":"legM"},
  "encoding":{"y":{"field":"s","type":"nominal","scale":{"type":"point","domain":["r","y","g"],"range":[122.5,165.5]},"axis":null}},
  "layer":[
   {"mark":{"type":"point","shape":"square","filled":true,"size":340,"opacity":1,"fillOpacity":0.5,"stroke":"black","strokeWidth":1.6,"strokeOpacity":1},
    "encoding":{"fill":{"field":"s","type":"nominal","scale":{"domain":["r","y","g"],"range":["#ff0000","#ffd700","#00ff00"]},"legend":null},
     "strokeDash":{"field":"s","type":"nominal","scale":{"domain":["r","y","g"],"range":[[1,0],[6,3],[1.2,3]]},"legend":null}}},
   {"mark":{"type":"point","shape":"M0,-1L0,1","filled":false,"size":361,"opacity":1,"strokeWidth":1,"strokeDash":[3,2]},
    "encoding":{"stroke":{"field":"s","type":"nominal","scale":{"domain":["r","y","g"],"range":["#ff0000","#daa520","#00ff00"]},"legend":null}}},
   {"mark":{"type":"text","align":"left","baseline":"middle","dx":17,"fontSize":15,"fontStyle":"italic","font":"Liberation Serif"},"encoding":{"text":{"field":"m"}}},
   {"mark":{"type":"text","align":"left","baseline":"middle","dx":29,"dy":5,"fontSize":10,"fontStyle":"italic","font":"Liberation Serif"},"encoding":{"text":{"field":"s"}}}
  ]}
]}
]
}
